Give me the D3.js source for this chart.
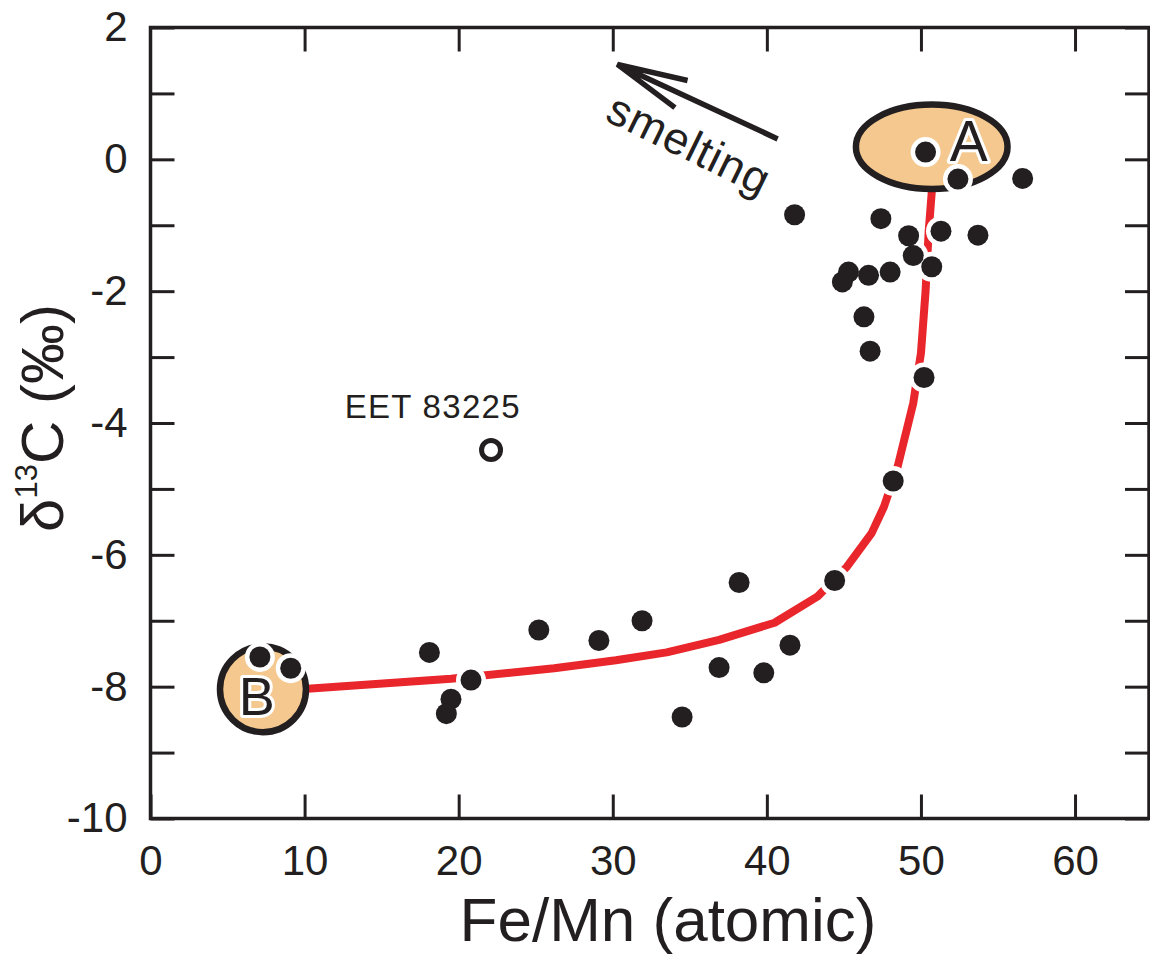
<!DOCTYPE html>
<html>
<head>
<meta charset="utf-8">
<script src="https://cdn.jsdelivr.net/npm/d3@7"></script>
<style>
  body { margin: 0; background: #fff; }
  svg { display: block; font-family: "Liberation Sans", Arial, sans-serif; }
</style>
</head>
<body>
<svg id="chart"></svg>
<script>
const width = 1150, height = 962
const margin = {top: 27.5, right: 1, bottom: 143.5, left: 150.5}
const ink = "#231f20"

// measured samples
const feMn = [50.3, 52.4, 56.6, 41.8, 47.4, 51.3, 53.7, 49.2, 49.5, 50.7, 48.0, 46.6, 45.3, 44.9,
    46.3, 46.7, 50.2, 48.2, 44.4, 38.2, 41.5, 36.9, 39.8, 34.5, 31.9, 29.1, 25.2, 18.1, 20.8,
    19.5, 19.2, 7.1, 9.1]
const d13C = [0.11, -0.30, -0.29, -0.84, -0.90, -1.09, -1.15, -1.16, -1.46, -1.63, -1.71, -1.76, -1.71, -1.86,
    -2.39, -2.91, -3.31, -4.88, -6.39, -6.42, -7.37, -7.71, -7.79, -8.46, -7.00, -7.30, -7.14, -7.48, -7.90,
    -8.19, -8.41, -7.55, -7.72]

// EET 83225 (open symbol)
const outlierFeMn = [22.1]
const outlierD13C = [-4.41]
const outlierName = ["EET 83225"]

// mixing curve B -> A
const curveFeMn = [7.3, 10.2, 19.5, 26.2, 30.2, 33.5, 36.9, 40.5, 43.3, 45.2, 46.8, 47.6, 48.5, 49.5, 50.0, 50.3, 50.5, 50.7, 50.7]
const curveD13C = [-8.04, -8.03, -7.88, -7.72, -7.60, -7.48, -7.29, -7.03, -6.63, -6.18, -5.67, -5.27, -4.65, -3.70, -2.94, -2.0, -1.1, -0.5, 0.19]

// end members
const memberName = ["A", "B"]
const memberFeMn = [50.7, 7.3]
const memberD13C = [0.19, -8.04]
const memberRx = [4.92, 2.79]
const memberRy = [0.64, 0.65]
const memberLabelFeMn = [53.1, 6.9]
const memberLabelD13C = [-0.02, -8.43]

// smelting arrow
const arrowFeMn = [40.7, 30.3]
const arrowD13C = [0.31, 1.44]
const arrowLabel = "smelting"
const arrowLabelAt = [29.4, 0.6]

const xTicks = [0, 10, 20, 30, 40, 50, 60]
const yTicks = [-10, -9, -8, -7, -6, -5, -4, -3, -2, -1, 0, 1, 2]
const xDomain = [0, 64.8]
const yDomain = [-10, 2]

const svg = d3.select("svg#chart")
    .attr("width", width)
    .attr("height", height)
    .attr("viewBox", [0, 0, width, height])

const x = d3.scaleLinear().domain(xDomain).range([margin.left, width - margin.right])
const y = d3.scaleLinear().domain(yDomain).range([height - margin.bottom, margin.top])

function styleAxis(g, size) {
    g.select(".domain").remove()
    g.selectAll(".tick line").attr("stroke", ink).attr("stroke-width", 3)
    g.selectAll(".tick text")
        .attr("fill", ink)
        .attr("font-family", "'Liberation Sans', Arial, sans-serif")
        .attr("font-size", size)
}

// bottom axis
svg.append("g")
    .attr("transform", `translate(0,${y(-10)})`)
    .call(d3.axisBottom(x).tickValues(xTicks).tickSize(-24).tickPadding(27).tickFormat(d => String(d)))
    .call(g => styleAxis(g, 42))

// top axis
svg.append("g")
    .attr("transform", `translate(0,${y(2)})`)
    .call(d3.axisTop(x).tickValues(xTicks.filter(d => d > 0)).tickSize(-24).tickFormat(""))
    .call(g => styleAxis(g, 0))

// left axis (plain hyphen for negatives, labels every 2)
svg.append("g")
    .attr("transform", `translate(${x(0)},0)`)
    .call(d3.axisLeft(y).tickValues(yTicks).tickSize(-24).tickPadding(23)
        .tickFormat(d => d % 2 === 0 ? String(d) : ""))
    .call(g => styleAxis(g, 42))

// right axis
svg.append("g")
    .attr("transform", `translate(${x(xDomain[1])},0)`)
    .call(d3.axisRight(y).tickValues(yTicks).tickSize(-24).tickFormat(""))
    .call(g => styleAxis(g, 0))

// frame
svg.append("rect")
    .attr("x", x(0))
    .attr("y", y(2))
    .attr("width", x(xDomain[1]) - x(0))
    .attr("height", y(-10) - y(2))
    .attr("fill", "none")
    .attr("stroke", ink)
    .attr("stroke-width", 3.5)

// mixing curve
const curve = d3.zip(curveFeMn, curveD13C)
svg.append("path")
    .datum(curve)
    .attr("d", d3.line().x(d => x(d[0])).y(d => y(d[1])))
    .attr("fill", "none")
    .attr("stroke", "#e8262b")
    .attr("stroke-width", 8)
    .attr("stroke-linejoin", "round")

// end-member ellipses
svg.selectAll("ellipse.member")
    .data(d3.range(memberName.length))
    .enter()
    .append("ellipse").classed("member", true)
    .attr("cx", i => x(memberFeMn[i]))
    .attr("cy", i => y(memberD13C[i]))
    .attr("rx", i => x(memberRx[i]) - x(0))
    .attr("ry", i => y(0) - y(memberRy[i]))
    .attr("fill", "#f4c88e")
    .attr("stroke", ink)
    .attr("stroke-width", 6.5)

// sample points: white halo underneath, then the dots
const pts = d3.zip(feMn, d13C)
svg.append("g").selectAll("circle")
    .data(pts)
    .enter()
    .append("circle")
    .attr("cx", d => x(d[0]))
    .attr("cy", d => y(d[1]))
    .attr("r", 15)
    .attr("fill", "#fff")

svg.append("g").selectAll("circle")
    .data(pts)
    .enter()
    .append("circle")
    .attr("cx", d => x(d[0]))
    .attr("cy", d => y(d[1]))
    .attr("r", 10.5)
    .attr("fill", ink)

// EET 83225
svg.selectAll("circle.outlier")
    .data(d3.range(outlierFeMn.length))
    .enter()
    .append("circle").classed("outlier", true)
    .attr("cx", i => x(outlierFeMn[i]))
    .attr("cy", i => y(outlierD13C[i]))
    .attr("r", 9.5)
    .attr("fill", "#fff")
    .attr("stroke", ink)
    .attr("stroke-width", 5)

svg.selectAll("text.outlier")
    .data(d3.range(outlierFeMn.length))
    .enter()
    .append("text").classed("outlier", true)
    .attr("x", i => x(outlierFeMn[i] - 9.5))
    .attr("y", i => y(outlierD13C[i] + 0.48))
    .attr("font-size", 33)
    .attr("letter-spacing", 1.3)
    .attr("fill", ink)
    .text(i => outlierName[i])

// A / B labels
svg.selectAll("text.member")
    .data(d3.range(memberName.length))
    .enter()
    .append("text").classed("member", true)
    .attr("x", i => x(memberLabelFeMn[i]))
    .attr("y", i => y(memberLabelD13C[i]))
    .attr("text-anchor", "middle")
    .attr("font-size", i => i === 0 ? 57 : 54)
    .attr("fill", ink)
    .attr("stroke", "#fff")
    .attr("stroke-width", 6)
    .attr("paint-order", "stroke")
    .attr("stroke-linejoin", "round")
    .text(i => memberName[i])

// smelting arrow
const ax0 = x(arrowFeMn[0]), ay0 = y(arrowD13C[0])
const ax1 = x(arrowFeMn[1]), ay1 = y(arrowD13C[1])
const ang = Math.atan2(ay0 - ay1, ax0 - ax1)
const headLen = 72, headSpread = 12 * Math.PI / 180
const arrowPath = d3.path()
arrowPath.moveTo(ax0, ay0)
arrowPath.lineTo(ax1, ay1)
arrowPath.moveTo(ax1 + headLen * Math.cos(ang - headSpread), ay1 + headLen * Math.sin(ang - headSpread))
arrowPath.lineTo(ax1, ay1)
arrowPath.lineTo(ax1 + headLen * Math.cos(ang + headSpread), ay1 + headLen * Math.sin(ang + headSpread))
svg.append("path")
    .attr("d", arrowPath.toString())
    .attr("fill", "none")
    .attr("stroke", ink)
    .attr("stroke-width", 5.5)
    .attr("stroke-linejoin", "miter")

svg.append("text")
    .attr("transform", `translate(${x(arrowLabelAt[0])},${y(arrowLabelAt[1])}) rotate(26)`)
    .attr("font-size", 45)
    .attr("letter-spacing", 1)
    .attr("fill", ink)
    .text(arrowLabel)

// axis titles
svg.append("text")
    .attr("x", 668)
    .attr("y", 941)
    .attr("text-anchor", "middle")
    .attr("font-size", 62)
    .attr("fill", ink)
    .text("Fe/Mn (atomic)")

const yTitle = svg.append("text")
    .attr("transform", `translate(63,418) rotate(-90)`)
    .attr("text-anchor", "middle")
    .attr("font-size", 60)
    .attr("fill", ink)
yTitle.append("tspan").text("δ")
yTitle.append("tspan").attr("font-size", 31).attr("dy", -26).text("13")
yTitle.append("tspan").attr("dy", 26).text("C (‰)")
</script>
</body>
</html>
